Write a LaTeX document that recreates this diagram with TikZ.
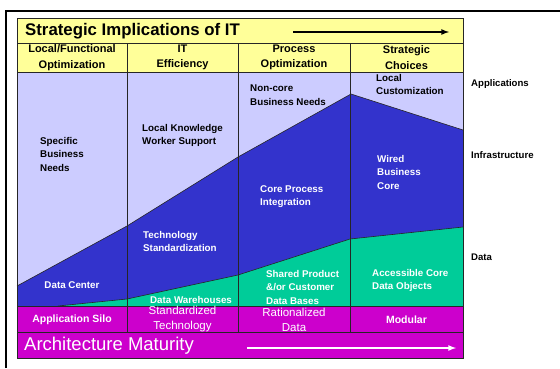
\documentclass[tikz,border=0pt]{standalone}
\usepackage{fontspec}
\setmainfont{Liberation Sans}
\usetikzlibrary{positioning}

\definecolor{appblue}{RGB}{204,204,255}
\definecolor{infblue}{RGB}{51,51,204}
\definecolor{datagreen}{RGB}{0,204,153}
\definecolor{silopink}{RGB}{204,0,204}
\definecolor{headyellow}{RGB}{255,255,153}

\begin{document}
\begin{tikzpicture}[x=1pt,y=-1pt,
    rule/.style={draw=black!85,line width=0.6pt},
    head/.style={font=\bfseries\fontsize{11}{15.5}\selectfont,align=center,inner sep=0pt},
    dark/.style={font=\bfseries\fontsize{9.8}{13.5}\selectfont,align=left,anchor=north west,inner sep=0pt},
    light/.style={dark,text=white},
    layer/.style={font=\bfseries\fontsize{9.6}{11}\selectfont,anchor=west,inner sep=0pt},
    silo/.style={font=\bfseries\fontsize{10.5}{15}\selectfont,text=white,align=center,inner sep=0pt},
    silothin/.style={silo,font=\fontsize{11.5}{15}\selectfont}]
    \useasboundingbox (0,0) rectangle (560,368);
    % slide frame
    \draw[line width=2.2pt] (6,368) -- (6,11) -- (560,11);
    % bands
    \fill[headyellow] (17,18) rectangle (463,72);
    \fill[appblue] (17,72) rectangle (463,306);
    \fill[infblue] (17,286) -- (127,226) -- (238,157) -- (351,94) -- (463,130) |- (17,306) -- cycle;
    \fill[datagreen] (58,306) -- (127,299) -- (238,275) -- (350,239) -- (463,227) -- (463,306) -- cycle;
    \fill[silopink] (17,306) rectangle (463,358);
    \draw[rule] (17,286) -- (127,226) -- (238,157) -- (351,94) -- (463,130);
    \draw[rule] (58,306) -- (127,299) -- (238,275) -- (350,239) -- (463,227);
    % grid
    \foreach \y in {43,72,306,332}
        \draw[rule] (17,\y) -- (463,\y);
    \foreach \x in {127,238,350}
        \draw[rule] (\x,43) -- (\x,332);
    \draw[rule] (17,18) rectangle (463,358);

    % title row
    \node[font=\bfseries\fontsize{16.8}{18}\selectfont,anchor=west,inner sep=0pt] (title) at (25,31) {Strategic Implications of IT};
    \coordinate (ta) at (293,32);
    \coordinate (tb) at (449,32);
    \draw[-latex,line width=1.6pt] (ta) -- (tb);

    % stages
    \node[head] (local) at (72,57.5) {Local/Functional\\Optimization};
    \node[head] (effic) at (182.5,57.5) {IT\\Efficiency};
    \node[head] (proc) at (294,57.5) {Process\\Optimization};
    \node[head] (strat) at (406.5,57.5) {Strategic\\Choices};

    % applications
    \node[dark] (specific) at (40,137) {Specific\\Business\\Needs};
    \node[dark] (knowledge) at (142,124) {Local Knowledge\\Worker Support};
    \node[dark] (noncore) at (250,85) {Non-core\\Business Needs};
    \node[dark] (custom) at (376,74) {Local\\Customization};

    % infrastructure
    \node[light,anchor=center] (center) at (72,285) {Data Center};
    \node[light] (techstd) at (143,231) {Technology\\Standardization};
    \node[light] (coreproc) at (260,185) {Core Process\\Integration};
    \node[light] (wired) at (377,155) {Wired\\Business\\Core};

    % data
    \node[light,anchor=center] (warehouse) at (191,300) {Data Warehouses};
    \node[light] (shared) at (266,270) {Shared Product\\\&/or Customer\\Data Bases};
    \node[light] (objects) at (372,269) {Accessible Core\\Data Objects};

    % architecture
    \node[silo] (silo) at (72,319.5) {Application Silo};
    \node[silothin] (stdtech) at (182.5,319.5) {Standardized\\Technology};
    \node[silothin] (ratdata) at (294,319.5) {Rationalized\\Data};
    \node[silo] (modular) at (406.5,319.5) {Modular};
    \draw[rule] (17,332) -- (463,332);
    \node[font=\fontsize{18.5}{20}\selectfont,text=white,anchor=west,inner sep=0pt] (maturity) at (24,346) {Architecture Maturity};
    \coordinate (ma) at (247,348);
    \coordinate (mb) at (456,348);
    \draw[-latex,white,line width=1.6pt] (ma) -- (mb);

    % layer labels
    \node[layer] (apps) at (471,84) {Applications};
    \node[layer] (infra) at (471,155) {Infrastructure};
    \node[layer] (data) at (471,257) {Data};
\end{tikzpicture}
\end{document}
